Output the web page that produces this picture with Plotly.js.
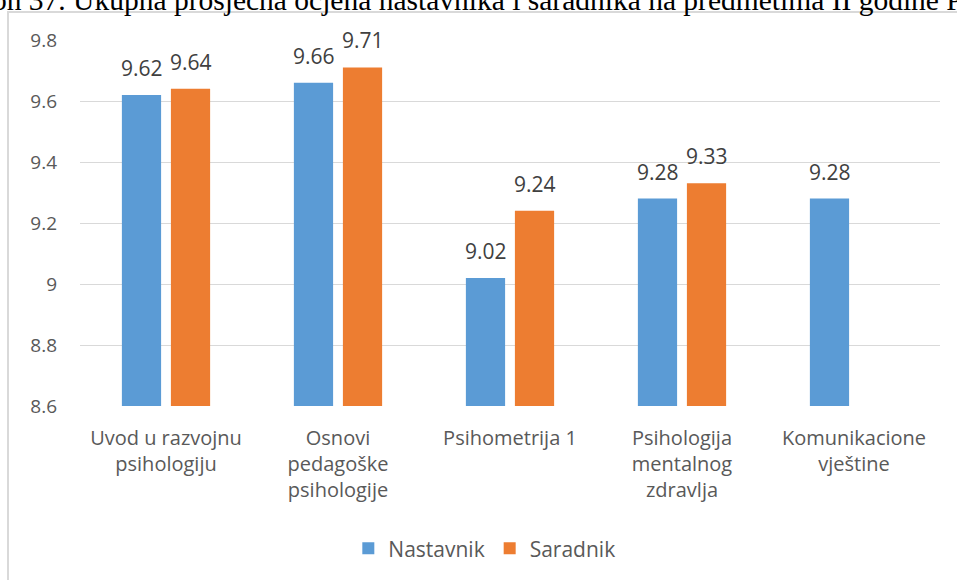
<!DOCTYPE html>
<html>
<head>
<meta charset="utf-8">
<script src="https://cdn.plot.ly/plotly-3.0.1.min.js"></script>
<style>html,body{margin:0;padding:0;background:#fff;}#chart{width:957px;height:580px;}</style>
</head>
<body>
<div id="chart"></div>
<script>
var categories = ["Uvod u razvojnu<br>psihologiju", "Osnovi<br>pedagoške<br>psihologije", "Psihometrija 1", "Psihologija<br>mentalnog<br>zdravlja", "Komunikacione<br>vještine"];
var nastavnik = [9.62, 9.66, 9.02, 9.28, 9.28];
var saradnik = [9.64, 9.71, 9.24, 9.33, null];
var seriesNames = ["Nastavnik", "Saradnik"];
var seriesColors = ["#5b9bd5", "#ed7d31"];
var yTicks = [8.6, 8.8, 9, 9.2, 9.4, 9.6, 9.8];
var yTickText = ["8.6", "8.8", "9", "9.2", "9.4", "9.6", "9.8"];
var titleText = "Grafikon 37. Ukupna prosječna ocjena nastavnika i saradnika na predmetima II godine PS";

var baseFont = "Open Sans, Liberation Sans, sans-serif";

var traces = [
  {type: "bar", name: seriesNames[0], x: categories, y: nastavnik, marker: {color: seriesColors[0]}, hoverinfo: "none"},
  {type: "bar", name: seriesNames[1], x: categories, y: saradnik, marker: {color: seriesColors[1]}, hoverinfo: "none"}
];

// data labels built from the series arrays
var annotations = [];
var series = [nastavnik, saradnik];
var shifts = [-24.5, 24.5];
series.forEach(function(arr, si){
  arr.forEach(function(v, i){
    if (v === null) return;
    annotations.push({xref: "x", yref: "y", x: categories[i], y: v, xshift: shifts[si], yshift: 11,
      yanchor: "bottom", xanchor: "center", showarrow: false, text: v.toFixed(2),
      font: {family: baseFont, size: 21, color: "#404040"}});
  });
});
annotations.push({xref: "paper", yref: "paper", x: 1.048, xanchor: "right", y: 1.108, yanchor: "middle", showarrow: false,
  text: titleText, font: {family: "Liberation Serif, Times New Roman, serif", size: 29.5, color: "#000000"}});

var layout = {
  width: 957, height: 580,
  margin: {l: 80, r: 17, t: 40, b: 173},
  paper_bgcolor: "#ffffff", plot_bgcolor: "#ffffff",
  barmode: "group", bargap: 0.43, bargroupgap: 0.2,
  font: {family: baseFont, size: 20, color: "#595959"},
  xaxis: {type: "category", showgrid: false, zeroline: false, showline: false, ticks: "",
          tickfont: {size: 20, color: "#595959"}, tickangle: 0, ticklabelstandoff: 18},
  yaxis: {range: [8.6, 9.8], tickvals: yTicks, ticktext: yTickText, showgrid: true, gridcolor: "#d9d9d9",
          gridwidth: 1, zeroline: false, showline: false, ticks: "", tickfont: {size: 19, color: "#595959"}, ticklabelstandoff: 22},
  showlegend: true,
  legend: {orientation: "h", x: 0.312, xanchor: "left", y: -0.386, yanchor: "middle",
           font: {size: 21, color: "#595959"}, itemwidth: 30, traceorder: "normal"},
  shapes: [
    {type: "rect", xref: "paper", yref: "paper", x0: -0.0837, x1: 1.1, y0: -0.6, y1: 1.0763,
     line: {color: "#d9d9d9", width: 2}, fillcolor: "rgba(0,0,0,0)", layer: "below"}
  ],
  annotations: annotations
};

Plotly.newPlot("chart", traces, layout, {displayModeBar: false, staticPlot: true});
</script>
</body>
</html>
